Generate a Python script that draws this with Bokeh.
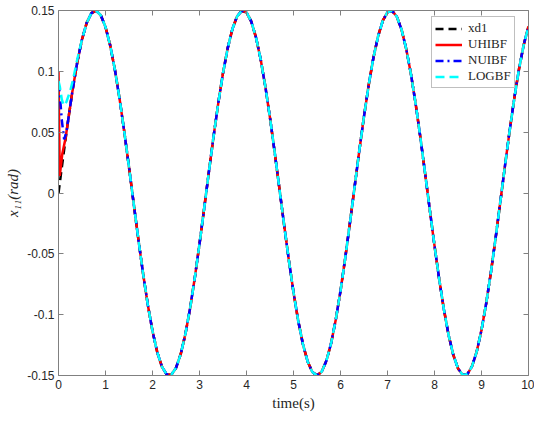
from bokeh.plotting import figure
from bokeh.models import (Range1d, FixedTicker, LinearAxis, Legend, LegendItem,
                          CustomJSTickFormatter)
from bokeh.embed import file_html
from bokeh.resources import INLINE

# ---------------- data ----------------
t_grid = [0.0, 0.1, 0.2, 0.3, 0.4, 0.5, 0.6, 0.7, 0.8, 0.9,
          1.0, 1.1, 1.2, 1.3, 1.4, 1.5, 1.6, 1.7, 1.8, 1.9,
          2.0, 2.1, 2.2, 2.3, 2.4, 2.5, 2.6, 2.7, 2.8, 2.9,
          3.0, 3.1, 3.2, 3.3, 3.4, 3.5, 3.6, 3.7, 3.8, 3.9,
          4.0, 4.1, 4.2, 4.3, 4.4, 4.5, 4.6, 4.7, 4.8, 4.9,
          5.0, 5.1, 5.2, 5.3, 5.4, 5.5, 5.6, 5.7, 5.8, 5.9,
          6.0, 6.1, 6.2, 6.3, 6.4, 6.5, 6.6, 6.7, 6.8, 6.9,
          7.0, 7.1, 7.2, 7.3, 7.4, 7.5, 7.6, 7.7, 7.8, 7.9,
          8.0, 8.1, 8.2, 8.3, 8.4, 8.5, 8.6, 8.7, 8.8, 8.9,
          9.0, 9.1, 9.2, 9.3, 9.4, 9.5, 9.6, 9.7, 9.8, 9.9, 10.0]

xd1 = [0.0, 0.0298, 0.0584, 0.0847, 0.1076, 0.1262, 0.1398, 0.1478, 0.1499, 0.1461,
       0.1364, 0.1213, 0.1013, 0.0773, 0.0502, 0.0212, -0.0088, -0.0383, -0.0664, -0.0918,
       -0.1135, -0.1307, -0.1427, -0.1491, -0.1494, -0.1438, -0.1325, -0.1159, -0.0947, -0.0697,
       -0.0419, -0.0125, 0.0175, 0.0467, 0.0741, 0.0985, 0.1191, 0.1348, 0.1452, 0.1498,
       0.1484, 0.1411, 0.1282, 0.1102, 0.0877, 0.0618, 0.0334, 0.0037, -0.0261, -0.0550,
       -0.0816, -0.1050, -0.1242, -0.1384, -0.1471, -0.1500, -0.1469, -0.1379, -0.1235, -0.1040,
       -0.0805, -0.0537, -0.0248, 0.0050, 0.0347, 0.0630, 0.0888, 0.1111, 0.1289, 0.1416,
       0.1486, 0.1497, 0.1448, 0.1342, 0.1182, 0.0975, 0.0730, 0.0455, 0.0162, -0.0138,
       -0.0432, -0.0709, -0.0957, -0.1168, -0.1331, -0.1442, -0.1495, -0.1489, -0.1423, -0.1301,
       -0.1126, -0.0907, -0.0652, -0.0371, -0.0074, 0.0225, 0.0515, 0.0784, 0.1023, 0.1221, 0.1369]

# initial transients of the three controllers (before they join the reference)
uhibf_t_head = [0.0, 0.01, 0.027, 0.08, 0.15]
uhibf_v_head = [0.100, 0.065, 0.014, 0.032, 0.045]

nuibf_t_head = [0.0, 0.03, 0.07, 0.12, 0.17]
nuibf_v_head = [0.090, 0.080, 0.060, 0.044, 0.050]

logbf_t_head = [0.0, 0.03, 0.07, 0.11, 0.17, 0.25, 0.32, 0.40]
logbf_v_head = [0.092, 0.087, 0.077, 0.072, 0.075, 0.084, 0.095, 0.110]

x_ticks = [0, 1, 2, 3, 4, 5, 6, 7, 8, 9, 10]
y_ticks = [-0.15, -0.1, -0.05, 0, 0.05, 0.1, 0.15]

series_names = ["xd1", "UHIBF", "NUIBF", "LOGBF"]


def join(head_t, head_v):
    ts = list(head_t)
    vs = list(head_v)
    for t, v in zip(t_grid, xd1):
        if t > head_t[-1] + 1e-9:
            ts.append(t)
            vs.append(v)
    return ts, vs


uh_t, uh_v = join(uhibf_t_head, uhibf_v_head)
nu_t, nu_v = join(nuibf_t_head, nuibf_v_head)
lg_t, lg_v = join(logbf_t_head, logbf_v_head)

# ---------------- figure ----------------
AX = "#808080"
TXT = "#262626"

W, H = 534, 413
BL, BR, BT, BB = 58, 6, 10, 37

p = figure(width=W, height=H, output_backend="svg", toolbar_location=None,
           x_range=Range1d(0, 10), y_range=Range1d(-0.15, 0.15),
           min_border_left=BL, min_border_right=BR, min_border_top=BT, min_border_bottom=BB,
           background_fill_color="white", border_fill_color="white")
p.outline_line_color = None
p.xgrid.visible = False
p.ygrid.visible = False

fmt = CustomJSTickFormatter(code="return String(Math.round(tick*100)/100);")


def style_axis(ax, ticks, labels=True):
    ax.ticker = FixedTicker(ticks=ticks)
    ax.axis_line_color = AX
    ax.axis_line_width = 1
    ax.major_tick_line_color = AX
    ax.major_tick_in = 5
    ax.major_tick_out = 0
    ax.minor_tick_line_color = None
    if labels:
        ax.formatter = fmt
        ax.major_label_text_font = "Liberation Sans"
        ax.major_label_text_font_size = "12px"
        ax.major_label_text_color = TXT
        ax.major_label_standoff = 4
    else:
        ax.major_label_text_font_size = "1px"
        ax.major_label_text_color = None
        ax.major_label_standoff = 0


style_axis(p.xaxis[0], x_ticks)
style_axis(p.yaxis[0], y_ticks)
p.xaxis[0].axis_label = "time(s)"
p.yaxis[0].axis_label = "x\u2081\u2081(rad)"
for ax in (p.xaxis[0], p.yaxis[0]):
    ax.axis_label_text_font = "Liberation Serif"
    ax.axis_label_text_font_size = "15px"
    ax.axis_label_text_color = TXT
    ax.axis_label_standoff = 3
p.xaxis[0].axis_label_text_font_style = "normal"
p.yaxis[0].axis_label_text_font_style = "italic"

top = LinearAxis()
right = LinearAxis()
style_axis(top, x_ticks, labels=False)
style_axis(right, y_ticks, labels=False)
p.add_layout(top, "above")
p.add_layout(right, "right")

LW = 2.5
r_xd = p.line(t_grid, xd1, line_color="black", line_width=LW, line_dash="8 5")
r_uh = p.line(uh_t, uh_v, line_color="#ff0000", line_width=LW)
r_nu = p.line(nu_t, nu_v, line_color="#0000ff", line_width=LW, line_dash="8 4 2 4")
r_lg = p.line(lg_t, lg_v, line_color="#00ffff", line_width=LW, line_dash="9 5")

frame_w = W - BL - BR
frame_h = H - BT - BB
leg_w, leg_h = 84, 75

legend = Legend(items=[LegendItem(label=series_names[0], renderers=[r_xd]),
                       LegendItem(label=series_names[1], renderers=[r_uh]),
                       LegendItem(label=series_names[2], renderers=[r_nu]),
                       LegendItem(label=series_names[3], renderers=[r_lg])],
                location=(frame_w - 13 - leg_w, frame_h - 4 - leg_h))
legend.label_text_font = "Liberation Serif"
legend.label_text_font_size = "13px"
legend.label_text_color = TXT
legend.label_height = 13
legend.glyph_height = 13
legend.glyph_width = 27
legend.label_standoff = 6
legend.spacing = 0
legend.padding = 3
legend.margin = 0
legend.border_line_color = AX
legend.border_line_width = 1
legend.background_fill_color = "white"
legend.background_fill_alpha = 1
p.add_layout(legend, "center")

open("out.html", "w").write(file_html(p, INLINE))
